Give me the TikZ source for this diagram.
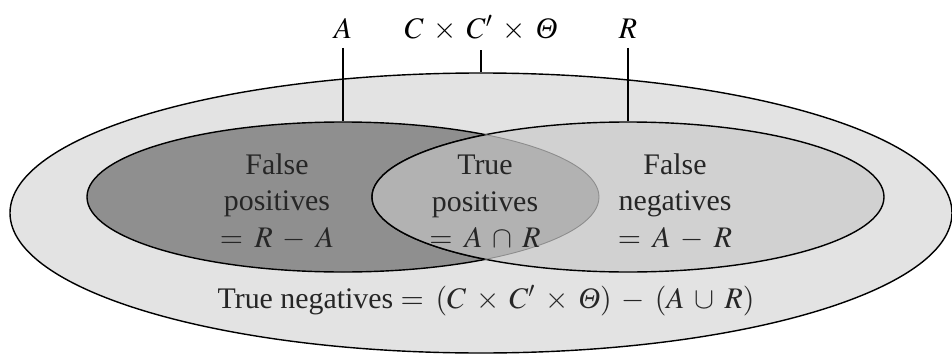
\documentclass[tikz,border=0pt]{standalone}
\usepackage{amsmath}
\usepackage{mathptmx}
\usepackage{fontspec}
\setmainfont{Liberation Serif}
\usetikzlibrary{shapes.geometric}
\definecolor{universe}{gray}{0.89}
\definecolor{falsepos}{gray}{0.56}
\definecolor{truepos}{gray}{0.70}
\definecolor{falseneg}{gray}{0.82}
\medmuskip=6mu plus 2mu minus 2mu
\thickmuskip=7mu plus 2mu

\begin{document}
\begin{tikzpicture}[
    set/.style={draw, ellipse, line width=0.8pt, inner sep=0pt},
    lbl/.style={font=\fontsize{17}{20}\selectfont, inner xsep=0pt, inner ysep=0.19cm},
    txt/.style={font=\fontsize{17}{20.7}\selectfont, align=center, inner sep=0pt, text=black!85}
  ]
      \useasboundingbox (0,0) rectangle (19.04,7.12);
      \node[set, fill=universe, minimum width=18.84cm, minimum height=5.6cm] (U) at (9.62,2.86) {};
      \node[set, fill=falsepos, minimum width=10.24cm, minimum height=3cm] (A) at (6.86,3.18) {};
      \node[set, fill=falseneg, minimum width=10.24cm, minimum height=3cm] (R) at (12.56,3.18) {};

      % the overlap A and R
      \begin{scope}
        \clip (A.center) ellipse [x radius=5.12cm, y radius=1.5cm];
        \fill[truepos] (R.center) ellipse [x radius=5.12cm, y radius=1.5cm];
        \draw[line width=0.8pt] (R.center) ellipse [x radius=5.12cm, y radius=1.5cm];
      \end{scope}
      \begin{scope}
        \clip (R.center) ellipse [x radius=5.12cm, y radius=1.5cm];
        \draw[black!45, line width=0.5pt] (A.center) ellipse [x radius=5.12cm, y radius=1.5cm];
      \end{scope}

      \node[lbl, anchor=base] (lblA) at (6.86,6.36) {$A$};
      \node[lbl, anchor=base] (lblU) at (9.62,6.36) {$C\times C'\times\textit{Θ}$};
      \node[lbl, anchor=base] (lblR) at (12.56,6.36) {$R$};

      \node[txt] (fp) at (5.54,3.09) {False\\positives\\$=R-A$};
      \node[txt] (tp) at (9.7,3.09) {True\\positives\\$=A\cap R$};
      \node[txt] (fn) at (13.5,3.09) {False\\negatives\\$=A-R$};
      \node[txt, anchor=base] (tn) at (9.72,0.96) {True negatives $=(C\times C'\times\textit{Θ})-(A\cup R)$};

      \draw[line width=0.8pt] (lblA.south) to (A.north);
      \draw[line width=0.8pt] (lblU.south) to (U.north);
      \draw[line width=0.8pt] (lblR.south) to (R.north);
    \end{tikzpicture}
\end{document}
